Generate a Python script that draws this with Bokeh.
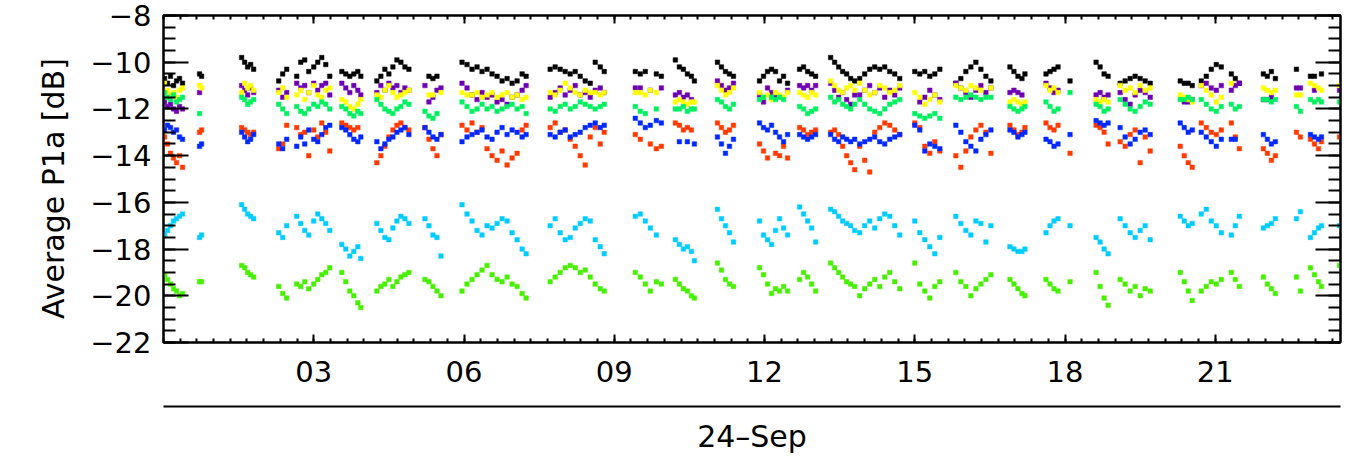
from bokeh.plotting import figure
from bokeh.models import Range1d, LinearAxis, FixedTicker
from bokeh.embed import file_html
from bokeh.resources import INLINE

N = None
# time of day (hours, 24-Sep)
hours = [
    0.02, 0.08, 0.14, 0.20, 0.26, 0.32, 0.38,
    0.72, 0.76,
    1.56, 1.62, 1.68, 1.74, 1.80,
    2.30, 2.38, 2.46, 2.66, 2.74, 2.82, 2.90, 3.00, 3.08, 3.16, 3.24, 3.32,
    3.56, 3.64, 3.72, 3.80, 3.88, 3.94,
    4.26, 4.34, 4.42, 4.50, 4.58, 4.66, 4.74, 4.82, 4.90,
    5.22, 5.30, 5.38, 5.46, 5.54,
    5.96, 6.06, 6.16, 6.26, 6.36, 6.46, 6.56, 6.66, 6.76, 6.86, 6.96, 7.06, 7.16, 7.24,
    7.72, 7.82, 7.92, 8.02, 8.12, 8.22, 8.32, 8.42, 8.52, 8.62, 8.72, 8.80,
    9.42, 9.52, 9.62, 9.72, 9.84, 9.94,
    10.22, 10.30, 10.38, 10.46, 10.54, 10.60,
    11.06, 11.14, 11.22, 11.30, 11.38,
    11.90, 11.98, 12.06, 12.14, 12.22, 12.30, 12.38, 12.46,
    12.70, 12.78, 12.86, 12.94, 13.02,
    13.32, 13.40, 13.48, 13.56, 13.64, 13.72, 13.80,
    13.90, 14.00, 14.10, 14.20, 14.30, 14.40, 14.50, 14.60, 14.70,
    15.00, 15.10, 15.20, 15.30, 15.40, 15.50,
    15.82, 15.92, 16.02, 16.12, 16.22, 16.32, 16.42, 16.52,
    16.90, 16.98, 17.06, 17.14, 17.20,
    17.62, 17.70, 17.78, 17.86, 18.10,
    18.62, 18.70, 18.78, 18.86,
    19.10, 19.20, 19.30, 19.40, 19.50, 19.60, 19.70,
    20.30, 20.38, 20.46, 20.54,
    20.72, 20.82, 20.92, 21.02, 21.12,
    21.32, 21.40, 21.48,
    21.96, 22.04, 22.12, 22.20,
    22.62, 22.70,
    22.90, 22.98, 23.06, 23.12,
    23.48,
]

black = [
    -10.7, -10.9, -10.6, -11.0, -10.8, -10.7, -10.9,
    -10.5, -10.6,
    -9.8, -10.0, -10.2, -10.1, -10.3,
    -10.8, -10.5, -10.3, -10.6, -10.0, -9.9, -10.4, -10.2, -10.0, -9.8, -10.1, -10.6,
    -10.4, -10.5, -10.6, -10.5, -10.4, -10.6,
    -10.8, -10.6, -10.3, -10.5, -10.2, -9.9, -10.0, -10.2, -10.3,
    N, -10.6, -10.7, -10.6, N,
    -10.0, -10.1, -10.3, -10.2, -10.4, -10.3, -10.5, -10.6, -10.8, -10.7, -10.9, -10.8, -10.5, -10.6,
    -10.3, -10.2, -10.3, -10.4, -10.5, -10.4, -10.6, -10.8, -10.9, -10.0, -10.2, -10.4,
    -10.4, -10.5, -10.4, N, -10.5, -10.6,
    -9.9, -10.2, -10.3, -10.5, -10.6, -10.8,
    -10.0, -10.2, -10.4, -10.5, -10.6,
    -10.8, -10.6, -10.4, -10.3, -10.4, -10.8, -10.6, -10.9,
    -10.3, -10.2, -10.4, -10.5, -10.6,
    -9.8, -10.0, -10.2, -10.4, -10.5, -10.7, -10.8,
    -10.7, -10.5, -10.3, -10.2, -10.3, -10.2, -10.4, -10.5, -10.7,
    -10.4, -10.5, -10.4, -10.6, -10.5, -10.3,
    -10.9, -10.7, -10.4, -10.2, -10.0, -10.3, -10.6, -10.8,
    -10.2, -10.4, -10.6, -10.7, -10.5,
    -10.5, -10.4, -10.3, -10.2, -10.8,
    -10.0, -10.2, -10.5, -10.6,
    -10.9, -10.8, -10.7, -10.6, -10.7, -10.8, -10.9,
    -10.8, -10.9, -10.9, -11.0,
    -10.8, -10.6, -10.3, -10.1, -10.2,
    -10.5, -10.7, -10.9,
    -10.5, -10.6, -10.4, -10.7,
    -10.3, N,
    -10.6, -10.6, N, -10.5,
    N,
]

purple = [
    -11.7, -11.9, -11.8, -12.0, -12.1, -11.9, -12.0,
    -11.3, N,
    -11.0, -11.2, -11.4, -11.1, -11.3,
    -11.2, -11.5, -11.3, -10.9, -11.1, -11.0, -11.3, -10.9, -11.2, -11.0, -10.9, -11.4,
    -10.9, -11.1, -11.3, -11.0, -11.2, -11.4,
    -11.3, -11.0, -11.2, -10.9, -11.1, -11.0, -11.3, -11.1, -11.2,
    -11.0, -11.7, -11.5, -11.2, -11.1,
    -10.9, -11.1, -11.4, -11.6, -11.3, -11.5, -11.4, -11.7, -11.6, -11.8, -11.5, -11.4, -11.2, -11.0,
    -11.5, -11.3, -11.1, -11.4, -11.2, -11.0, -11.4, -11.3, -11.5, -11.2, -11.1, -11.3,
    -11.1, -11.1, N, -11.2, N, -11.1,
    -11.4, -11.3, -11.5, -11.4, -11.6, N,
    -10.8, -11.0, -11.2, -11.1, -10.9,
    -11.4, -11.7, -11.1, -11.3, -11.5, N, N, -11.2,
    -11.0, -11.1, -11.0, -11.2, -11.0,
    -10.9, -11.2, -11.5, -11.3, -11.6, -11.8, -11.4,
    -11.4, -11.2, -11.0, -11.3, -11.1, -11.5, -11.2, -11.4, -11.1,
    N, -11.7, -11.5, -11.2, -11.4, -11.6,
    -10.9, -11.1, -11.3, -11.5, -11.2, -11.0, -11.3, -11.1,
    -11.3, -11.2, -11.3, -11.4, N,
    -10.9, -11.1, -11.3, -11.2, N,
    -11.4, -11.3, -11.5, -11.4,
    -11.3, -11.6, -11.8, -11.4, -11.2, -11.3, -11.5,
    N, -11.7, -11.7, -11.6,
    -11.0, -10.9, -11.1, -11.2, -11.0,
    -11.2, -11.0, -10.9,
    -11.6, -11.6, -11.5, N,
    -11.1, -11.1,
    N, -11.2, N, N,
    -11.2,
]

yellow = [
    -10.9, -11.2, -11.4, -11.3, -11.5, -11.2, -11.1,
    -11.0, -11.1,
    -11.3, -10.9, -11.1, -11.0, -11.2,
    -11.3, -11.1, -11.5, -11.4, -11.2, -11.6, -11.3, -11.0, -11.4, -11.5, -11.2, -11.1,
    -11.6, -11.7, -11.9, -12.0, -11.8, -11.6,
    -11.4, -11.5, -11.2, -11.0, -11.3, -11.5, -11.4, -11.3, -11.2,
    N, -11.4, -11.4, N, -11.3,
    -11.3, -11.4, -11.4, -11.3, -11.5, -11.4, -11.3, -11.5, -11.4, -11.3, -11.5, -11.4, -11.6, -11.5,
    -11.3, -11.4, -11.2, -10.9, -11.1, -11.3, -11.4, -11.2, -11.3, -11.3, -11.4, -11.3,
    -11.3, -11.3, -11.4, -11.2, -11.3, N,
    -11.7, -11.6, -11.7, -11.8, -11.7, -11.7,
    -11.0, -11.2, -11.4, -11.3, -11.1,
    -11.3, -11.5, -11.4, -11.6, -11.3, -11.4, -11.5, -11.3,
    -11.3, -11.4, -11.5, -11.3, -11.4,
    -10.8, -11.0, -11.2, -11.3, -11.1, -11.0, -11.2,
    -10.9, -11.2, -11.4, -11.3, -11.0, -11.1, -11.3, -11.2, -11.0,
    -11.3, -11.5, -11.8, -11.6, -11.4, -11.7,
    -11.0, -11.1, -11.2, -11.0, -11.1, -11.2, N, -11.1,
    -11.7, -11.6, -11.7, -11.8, -11.7,
    -11.0, -11.2, -11.1, -11.3, N,
    -11.6, -11.7, -11.6, -11.7,
    -11.0, -11.2, -11.1, -11.3, -11.0, -11.2, -11.1,
    -11.4, -11.5, -11.6, -11.7,
    -11.0, -11.2, -11.4, -11.7, -11.5,
    -10.9, N, N,
    -11.1, -11.2, -11.3, -11.2,
    -11.4, -11.4,
    -10.9, -11.0, -11.1, -11.2,
    -11.0,
]

spring = [
    -11.3, -11.5, -11.6, -11.4, -11.7, -11.6, -11.5,
    -12.2, N,
    -11.5, -11.6, -11.8, -11.7, -11.6,
    -11.8, -12.0, -12.2, -11.9, -12.1, -12.2, -12.0, -11.8, -11.9, -11.7, -11.8, -12.0,
    -11.9, -12.0, -12.2, -12.3, -12.1, -12.2,
    -11.6, -11.8, -12.0, -12.1, -12.2, -12.0, -11.9, -11.7, -11.8,
    -12.1, -12.3, -12.4, -12.2, N,
    -11.7, -11.9, -12.1, -12.0, -11.8, -12.0, -11.9, -12.1, -12.0, -11.9, -11.8, -12.0, -11.9, -12.2,
    -12.0, -12.1, -11.9, -11.8, -12.0, -11.9, -11.7, -11.8, -11.9, -12.0, -11.9, -11.8,
    -11.9, -12.1, -12.2, N, -12.0, N,
    -12.0, -12.0, -11.9, -12.1, -12.0, -12.0,
    -11.6, -11.7, -11.9, -12.0, -11.8,
    -11.6, -11.5, N, -11.5, -11.6, -11.5, -11.6, N,
    -11.9, -12.0, -12.2, -12.1, -12.0,
    -11.5, -11.7, -11.6, -11.8, -11.9, -12.0, -11.8,
    -11.6, -11.8, -12.0, -12.1, -12.2, -12.0, -11.8, -11.7, -11.6,
    -12.2, -12.3, -12.4, -12.3, -12.2, -12.4,
    -11.5, -11.6, -11.5, -11.4, -11.5, -11.6, -11.5, -11.5,
    -11.9, -12.0, -12.1, -12.0, -11.9,
    -11.7, -11.9, -12.1, -12.0, -11.3,
    -11.8, -11.9, -12.1, -12.0,
    -11.6, -11.8, -12.0, -12.1, -11.9, -11.7, -11.8,
    -11.6, -11.6, -11.5, -11.6,
    -11.6, -11.8, -12.0, -12.1, -11.9,
    -11.8, -12.0, -11.9,
    -11.6, -11.6, -11.7, -11.6,
    -11.9, -12.1,
    -11.6, -11.7, -11.6, -11.7,
    -11.7,
]

red = [
    -13.2, -13.5, -13.9, -14.1, -14.3, -14.0, -14.5,
    -13.0, -12.9,
    -12.8, -12.9, -13.0, -13.1, -13.0,
    -13.7, -13.5, -12.7, -12.8, -13.1, -13.0, -14.0, -12.9, -13.2, -12.6, -13.0, -13.8,
    -12.6, -12.7, -12.8, -12.9, -12.8, N,
    -14.3, -14.0, -13.6, -13.2, -12.9, -12.7, -12.6, -12.8, -12.9,
    -12.8, -13.3, -13.7, -14.0, -13.1,
    -12.7, -12.9, -12.6, -13.0, -12.8, -13.7, -14.0, -14.2, -13.8, -14.4, -14.1, -13.9, -12.9, -12.7,
    -12.8, -12.6, -13.0, -12.9, -13.3, -13.6, -14.0, -14.4, -13.2, -12.8, -13.5, -13.0,
    -13.1, -13.3, N, -13.5, -13.7, -13.6,
    -12.6, -12.7, -12.9, -12.8, -12.9, N,
    -12.6, -12.8, -13.0, -12.9, -12.7,
    -13.5, -13.8, -14.1, N, -13.9, -14.0, -13.6, -14.1,
    -12.8, -12.9, -13.1, -13.0, -12.9,
    -13.0, -12.9, -13.1, -13.6, -14.0, -14.3, -14.6,
    -13.6, -14.2, -14.7, -13.0, -12.8, -12.6, -12.7, -12.9, -13.1,
    -12.6, -12.8, -13.6, -13.9, -13.4, -13.8,
    -14.0, -14.5, -13.8, -13.2, -12.9, -12.7, -13.0, -13.9,
    -12.7, -12.9, -13.1, -13.0, -12.8,
    -12.6, -12.8, -12.9, -12.7, -13.9,
    -12.7, -12.8, -13.0, -13.5,
    -13.4, -13.6, -13.1, -12.9, -14.3, -13.2, -13.8,
    -13.6, -14.0, -14.3, -14.5,
    -12.6, -12.8, -13.0, -13.1, -12.9,
    -12.6, -13.2, -13.7,
    -13.7, -13.9, -14.2, -14.0,
    -13.0, -13.2,
    -13.3, -13.5, -13.7, -13.4,
    -13.2,
]

blue = [
    -12.9, -12.7, -12.8, -13.0, -12.9, -13.2, -13.3,
    -13.6, -13.5,
    -13.0, -13.2, -13.4, -13.3, -13.1,
    -13.5, -13.7, -13.3, -13.6, -13.2, -13.5, -12.9, -13.3, -13.4, -13.1, -12.8, -12.7,
    -12.8, -12.9, -13.1, -13.3, -13.4, -13.2,
    -13.4, -13.7, -13.5, -13.3, -13.2, -13.0, -12.9, -12.8, -13.1,
    -12.8, -13.0, -13.2, -13.3, -13.1,
    -13.4, -13.2, -13.1, -13.0, -12.9, -13.2, -13.3, -13.0, -12.8, -13.1, -12.9, -13.0, -13.2, -13.1,
    -13.1, -13.2, -13.0, -12.9, -13.2, -13.1, -13.0, -12.8, -12.7, -12.6, -12.8, -12.7,
    -12.4, -12.6, -12.8, -12.7, -12.5, -12.6,
    N, -13.4, N, -13.4, N, -13.5,
    -13.2, -13.5, -13.9, -13.6, -13.3,
    -12.6, -12.8, -12.9, -12.7, -13.0, -13.2, -13.4, -13.1,
    -13.1, -13.2, -13.3, -13.2, -13.1,
    -13.1, -13.3, -13.4, -13.2, -13.3, -13.4, -13.3,
    -13.5, -13.4, -13.3, -13.2, -13.4, -13.5, -13.3, -13.2, -13.1,
    -12.7, -12.9, -13.8, -13.5, -13.6, -13.7,
    -12.7, -13.0, -13.4, -13.6, -13.8, -13.3, -13.1, -12.9,
    -12.9, -13.0, -13.2, -13.1, -13.0,
    -13.3, -13.4, -13.6, -13.5, -13.1,
    -12.5, -12.6, -12.7, -12.6,
    -12.8, -13.2, -13.5, -13.3, -13.0, -12.9, -13.1,
    -12.6, -12.8, -13.0, -12.9,
    -13.0, -13.2, -13.4, -13.6, -13.3,
    -13.3, -13.3, N,
    -13.1, -13.3, -13.5, -13.4,
    N, N,
    -13.1, -13.2, -13.3, -13.2,
    N,
]

cyan = [
    -17.4, -17.2, -17.0, -16.8, -16.7, -16.6, -16.5,
    -17.5, -17.4,
    -16.1, -16.3, -16.5, -16.6, -16.7,
    -17.3, -17.5, -17.0, -16.6, -16.9, -17.2, -17.4, -16.8, -16.5, -16.7, -16.9, -17.2,
    -17.8, -18.0, -18.3, -18.1, -17.9, -18.4,
    -16.9, -17.2, -17.5, -17.6, -17.1, -16.8, -16.6, -16.7, -16.9,
    -16.7, -17.0, -17.4, -17.5, -18.3,
    -16.1, -16.5, -16.8, -17.2, -17.4, -17.0, -17.1, -16.9, -16.7, -16.8, -17.3, -17.6, -18.0, -18.2,
    -17.0, -16.7, -17.3, -17.6, -17.5, -17.1, -16.9, -16.7, -16.8, -17.6, -17.9, -18.2,
    -16.6, -16.5, -16.8, -17.1, -17.4, N,
    -17.6, -17.8, -18.0, -17.9, -18.1, -18.5,
    -16.3, -16.7, -17.0, -17.3, -17.7,
    -16.8, -17.4, -17.6, -17.8, -17.2, -16.7, -17.1, -17.4,
    -16.2, -16.5, -16.8, -17.1, -17.7,
    -16.3, -16.4, -16.6, -16.8, -16.9, -17.0, -17.2,
    -17.3, -17.0, -16.8, -17.1, -16.7, -16.5, -16.6, -17.0, -17.4,
    -16.8, -17.3, -17.6, -17.9, -18.2, -17.5,
    -16.6, -16.9, -17.2, -17.4, -16.8, -16.9, -17.7, -17.0,
    -17.9, -18.0, -18.1, -18.1, -18.0,
    -17.3, -17.0, -16.8, -16.7, -17.0,
    -17.5, -17.7, -18.0, -18.2,
    -16.7, -17.0, -17.3, -17.5, -17.2, -17.0, -17.6,
    -16.6, -16.8, -17.0, -16.9,
    -16.5, -16.3, -16.8, -17.0, -17.3,
    -17.4, -17.0, -16.6,
    -17.1, -17.0, -16.9, -16.7,
    -16.7, -16.4,
    -17.5, -17.3, -17.1, -17.0,
    -17.0,
]

lime = [
    -19.1, -19.3, -19.5, -19.7, -19.8, -20.0, -19.9,
    -19.4, -19.4,
    -18.7, -18.8, -19.0, -19.1, -19.2,
    -19.6, -19.9, -20.1, -19.5, -19.6, -19.4, -19.7, -19.5, -19.3, -19.1, -19.0, -18.8,
    -19.0, -19.4, -19.8, -20.0, -20.3, -20.5,
    -19.8, -19.6, -19.5, -19.3, -19.6, -19.4, -19.2, -19.1, -19.0,
    -19.3, -19.4, -19.6, -19.8, -20.0,
    -19.8, -19.5, -19.3, -19.1, -18.9, -18.7, -19.1, -19.3, -19.4, -19.2, -19.5, -19.6, -19.9, -20.1,
    -19.4, -19.2, -19.0, -18.8, -18.7, -18.8, -19.0, -18.9, -19.2, -19.5, -19.7, -19.8,
    -19.0, -19.2, -19.5, -19.8, -19.4, -19.5,
    -19.3, -19.5, -19.7, -19.8, -20.0, -20.1,
    -18.6, -18.9, -19.3, -19.5, -19.6,
    -18.8, -19.1, -19.5, -19.9, -19.7, -19.8, -19.6, -19.8,
    -19.3, -19.0, -19.2, -19.5, -19.8,
    -18.6, -18.8, -19.0, -19.2, -19.4, -19.5, -19.6,
    -20.0, -19.7, -19.5, -19.3, -19.6, -19.2, -19.0, -19.4, -19.7,
    -18.6, -19.5, -19.8, -20.1, -19.6, -19.4,
    -19.0, -19.4, -19.6, -20.0, -19.7, -19.5, -19.3, -19.1,
    -19.3, -19.5, -19.7, -19.9, -20.0,
    -19.3, -19.5, -19.7, -19.8, -19.4,
    -19.0, -19.6, -20.1, -20.4,
    -19.3, -19.5, -19.8, -19.6, -20.0, -19.7, -19.8,
    -19.0, -19.4, -19.8, -20.2,
    -19.8, -19.6, -19.4, -19.5, -19.3,
    -19.0, -19.3, -19.6,
    -19.2, -19.5, -19.7, -19.9,
    -19.2, -19.8,
    -18.8, -19.1, -19.4, -19.6,
    -18.7,
]

series = [
    (black, "#000000"),
    (purple, "#6e00b4"),
    (yellow, "#ffff00"),
    (spring, "#00f060"),
    (red, "#ff3a00"),
    (blue, "#0028ff"),
    (cyan, "#00ccff"),
    (lime, "#46f000"),
]

xtick_vals = [3, 6, 9, 12, 15, 18, 21]
xtick_labels = ["03", "06", "09", "12", "15", "18", "21"]
ytick_vals = [-22, -20, -18, -16, -14, -12, -10, -8]
ytick_labels = ["\u221222", "\u221220", "\u221218", "\u221216", "\u221214", "\u221212", "\u221210", "\u22128"]
x_minor = [i / 3 for i in range(0, 71)]
y_minor = [-22 + 0.5 * i for i in range(0, 29)]

FONT = "DejaVu Sans"

p = figure(width=1343, height=463, output_backend="svg", toolbar_location=None,
           x_range=Range1d(0, 23.5), y_range=Range1d(-22, -8),
           x_axis_location=None, y_axis_location=None,
           min_border_left=163, min_border_right=3, min_border_top=15, min_border_bottom=121)
p.grid.visible = False
p.outline_line_color = "black"
p.outline_line_width = 2
p.background_fill_color = "white"
p.border_fill_color = "white"

for vals, col in series:
    xs = [h for h, v in zip(hours, vals) if v is not None]
    ys = [v for v in vals if v is not None]
    p.scatter(xs, ys, marker="square", size=4.5, fill_color=col, line_color=col, line_width=0.5)

xt = FixedTicker(ticks=xtick_vals, minor_ticks=x_minor)
yt = FixedTicker(ticks=ytick_vals, minor_ticks=y_minor)

def style(ax, tin, tmin):
    ax.axis_line_width = 2
    ax.major_tick_line_width = 2
    ax.minor_tick_line_width = 2
    ax.major_tick_in = tin
    ax.major_tick_out = 0
    ax.minor_tick_in = tmin
    ax.minor_tick_out = 0
    ax.major_label_text_font = FONT
    ax.major_label_text_color = "black"
    ax.axis_label_text_font = FONT
    ax.axis_label_text_font_style = "normal"
    ax.axis_label_text_color = "black"

def hide_labels(ax, vals):
    ax.major_label_overrides = {v: "" for v in vals}
    ax.major_label_text_font_size = "1px"
    ax.major_label_standoff = 0

bottom = LinearAxis(ticker=xt)
style(bottom, 8, 4)
bottom.major_label_overrides = dict(zip(xtick_vals, xtick_labels))
bottom.major_label_text_font_size = "29px"
bottom.major_label_standoff = 18
bottom.axis_label = " "
bottom.axis_label_text_font_size = "8px"
bottom.axis_label_standoff = 10
p.add_layout(bottom, "below")

date_axis = LinearAxis(ticker=FixedTicker(ticks=[]))
style(date_axis, 0, 0)
date_axis.major_label_text_font_size = "1px"
date_axis.major_label_standoff = 0
date_axis.axis_label = "24\u2013Sep"
date_axis.axis_label_text_font_size = "30px"
date_axis.axis_label_standoff = 12
p.add_layout(date_axis, "below")

top = LinearAxis(ticker=xt)
style(top, 8, 4)
hide_labels(top, xtick_vals)
p.add_layout(top, "above")

left = LinearAxis(ticker=yt)
style(left, 25, 12)
left.major_label_overrides = dict(zip(ytick_vals, ytick_labels))
left.major_label_text_font_size = "29px"
left.major_label_standoff = 12
left.axis_label = "Average  P1a  [dB]"
left.axis_label_text_font_size = "30px"
left.axis_label_standoff = 16
p.add_layout(left, "left")

right = LinearAxis(ticker=yt)
style(right, 25, 12)
hide_labels(right, ytick_vals)
p.add_layout(right, "right")

open("out.html", "w").write(file_html(p, INLINE))
